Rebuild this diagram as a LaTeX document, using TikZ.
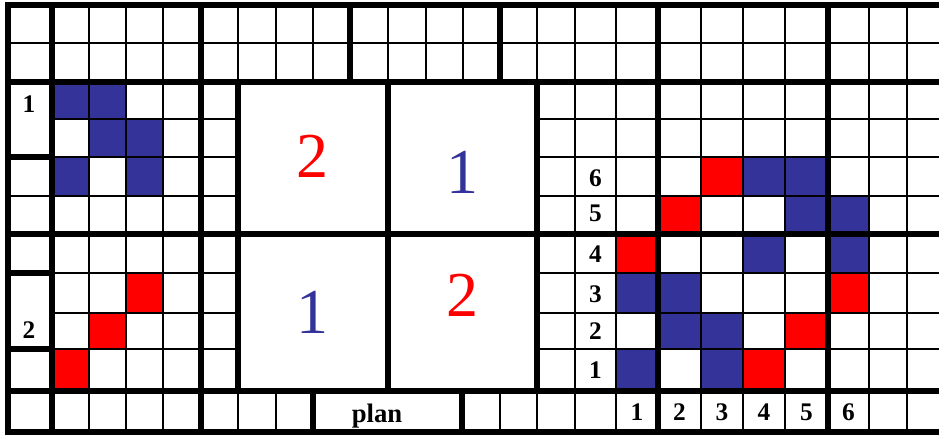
\documentclass[tikz,border=0pt]{standalone}
\usepackage{fontspec}
\setmainfont{Liberation Serif}
\definecolor{cblue}{RGB}{51,51,153}
\definecolor{cred}{RGB}{255,0,0}
\begin{document}
\begin{tikzpicture}[x=0.75pt,y=-0.75pt,
  gthin/.style={line width=2pt,black},
  gthick/.style={line width=3.8pt,black,line cap=rect},
  lbl/.style={font=\fontsize{19}{21}\selectfont\bfseries,inner sep=0pt,anchor=base},
  big/.style={font=\fontsize{48}{50}\selectfont,inner sep=0pt,anchor=base},
  bluecell/.style={fill=cblue},
  redcell/.style={fill=cred}]
\useasboundingbox (0,0) rectangle (939,436);
\fill[white] (0,0) rectangle (939,436);
% coloured cells, left part
\foreach \a/\b/\c/\d in {52/82/89/119, 89/82/126/119, 89/119/126/157, 126/119/163/157, 52/157/89/196, 126/157/163/196}
  \fill[bluecell] (\a,\b) rectangle (\c,\d);
\foreach \a/\b/\c/\d in {126/273/163/313, 89/313/126/349, 52/349/89/391}
  \fill[redcell] (\a,\b) rectangle (\c,\d);
% coloured cells, right part
\foreach \a/\b/\c/\d in {743/157/785/196, 785/157/828/196, 785/196/828/234, 828/196/869/234,
  743/234/785/273, 828/234/869/273, 616/273/658/313, 658/273/701/313,
  658/313/701/349, 701/313/743/349, 616/349/658/391, 701/349/743/391}
  \fill[bluecell] (\a,\b) rectangle (\c,\d);
\foreach \a/\b/\c/\d in {701/157/743/196, 658/196/701/234, 616/234/658/273, 828/273/869/313,
  785/313/828/349, 743/349/785/391}
  \fill[redcell] (\a,\b) rectangle (\c,\d);
% thin horizontal lines
\draw[gthin] (8,43) -- (939,43);
\foreach \y in {119,157,196,273,313,349} {
  \draw[gthin] (52,\y) -- (238,\y);
  \draw[gthin] (537,\y) -- (939,\y);
}
\draw[gthin] (8,196) -- (52,196);
% thin vertical lines
\foreach \x in {89,126,163,575,616,701,743,785,869,907}
  \draw[gthin] (\x,5) -- (\x,432);
\foreach \x in {238,276,313,388,426,463,537}
  \draw[gthin] (\x,5) -- (\x,82);
\foreach \x in {238,276,500,537}
  \draw[gthin] (\x,391) -- (\x,432);
\draw[gthin] (201,82) -- (201,391);
% thick horizontal lines
\foreach \y in {5,82,234,391,432}
  \draw[gthick] (8,\y) -- (945,\y);
\foreach \y in {157,273,349}
  \draw[gthick] (8,\y) -- (52,\y);
% thick vertical lines
\foreach \x in {8,52,201,658,828}
  \draw[gthick] (\x,5) -- (\x,432);
\foreach \x in {350,500}
  \draw[gthick] (\x,5) -- (\x,82);
\foreach \x in {238,388,537}
  \draw[gthick] (\x,82) -- (\x,391);
\foreach \x in {313,462}
  \draw[gthick] (\x,391) -- (\x,432);
% labels
\node[lbl] (lone) at (29,112) {1};
\node[lbl] (ltwo) at (29,338) {2};
\node[lbl] (r6) at (595.5,186) {6};
\node[lbl] (r5) at (595.5,221) {5};
\node[lbl] (r4) at (595.5,262) {4};
\node[lbl] (r3) at (595.5,302) {3};
\node[lbl] (r2) at (595.5,339) {2};
\node[lbl] (r1) at (595.5,378) {1};
\node[lbl] (c1) at (637,420) {1};
\node[lbl] (c2) at (679.5,420) {2};
\node[lbl] (c3) at (722,420) {3};
\node[lbl] (c4) at (764,420) {4};
\node[lbl] (c5) at (806.5,420) {5};
\node[lbl] (c6) at (848.5,420) {6};
\node[lbl,font=\fontsize{20}{22}\selectfont\bfseries] (plan) at (377,422) {plan};
% big digits
\node[big,text=cred] (btl) at (312,177) {2};
\node[big,text=cblue] (btr) at (462,193) {1};
\node[big,text=cblue] (bbl) at (312,333) {1};
\node[big,text=cred] (bbr) at (462,316) {2};
\end{tikzpicture}
\end{document}
